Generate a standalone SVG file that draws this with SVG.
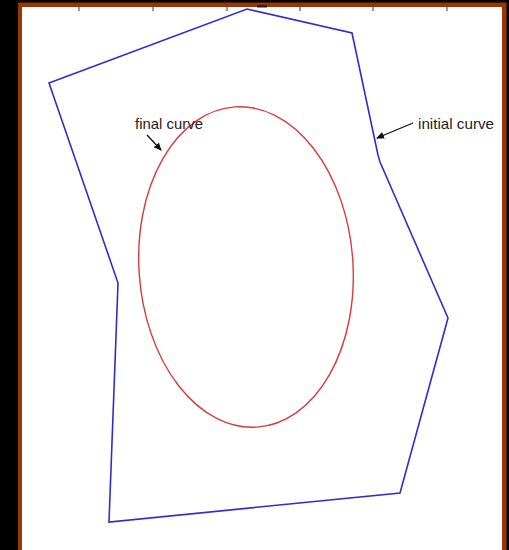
<svg xmlns="http://www.w3.org/2000/svg" width="509" height="550" viewBox="0 0 509 550">
  <style>
    .frame{fill:#983606}
    .tick{stroke:#333;stroke-width:1}
    .poly{fill:none;stroke:#2e2ed0;stroke-width:1.6;stroke-linejoin:miter}
    .curve{fill:none;stroke:#e03838;stroke-width:1.4}
    .lbl{font-family:"Liberation Sans Narrow","Liberation Sans",Arial,sans-serif;font-size:15px;fill:#222}
    .arr{stroke:#111;stroke-width:1.3;fill:none}
  </style>
  <defs>
    <marker id="ah" markerWidth="8" markerHeight="8" refX="7" refY="4" orient="auto" markerUnits="userSpaceOnUse">
      <path d="M0,0.5 L8,4 L0,7.5 Z" fill="#111"/>
    </marker>
  </defs>
  <rect x="0" y="0" width="509" height="550" fill="#000"/>
  <rect class="frame" x="18" y="2.5" width="488.5" height="547.5"/>
  <rect x="22" y="7" width="480" height="543" fill="#fff"/>
  <g id="ticks">
    <line class="tick" x1="79" y1="7" x2="79" y2="11"/>
    <line class="tick" x1="153" y1="7" x2="153" y2="11"/>
    <line class="tick" x1="227" y1="7" x2="227" y2="11"/>
    <line class="tick" x1="300" y1="7" x2="300" y2="11"/>
    <line class="tick" x1="373" y1="7" x2="373" y2="11"/>
    <line class="tick" x1="447" y1="7" x2="447" y2="11"/>
    <rect x="257" y="5" width="10" height="2.5" fill="#222"/>
  </g>
  <g id="initial-curve">
    <polygon class="poly" points="49,83 247,9 352,33 378,155 380,162 448,318 400,493 109,522 118,283"/>
  </g>
  <g id="final-curve">
    <ellipse class="curve" cx="246" cy="267" rx="107" ry="160.5" transform="rotate(-4 246 267)"/>
  </g>
  <g id="connectors">
    <line class="arr" x1="147" y1="135" x2="161" y2="150" marker-end="url(#ah)"/>
    <line class="arr" x1="413" y1="123" x2="377" y2="138" marker-end="url(#ah)"/>
  </g>
  <g id="labels">
    <text class="lbl" x="135" y="129" textLength="68" lengthAdjust="spacingAndGlyphs">final curve</text>
    <text class="lbl" x="418" y="129" textLength="76" lengthAdjust="spacingAndGlyphs">initial curve</text>
  </g>
</svg>
